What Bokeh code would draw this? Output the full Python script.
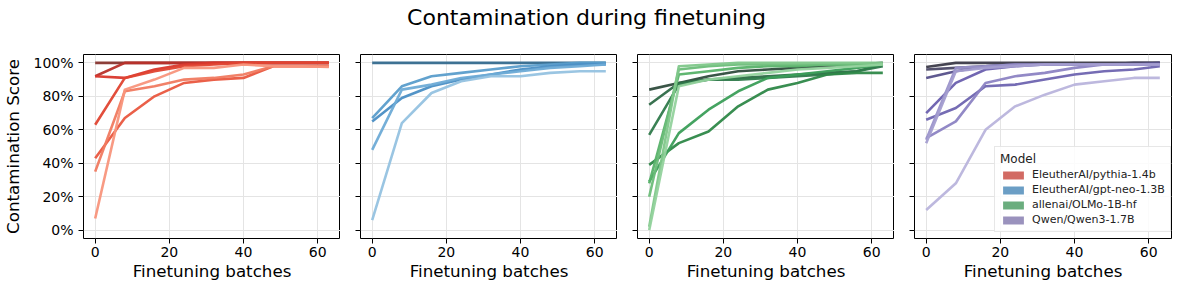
from bokeh.plotting import figure
from bokeh.layouts import column, row
from bokeh.models import Label, Legend, LegendItem, FixedTicker, PrintfTickFormatter, Range1d
from bokeh.embed import file_html
from bokeh.resources import INLINE

FONT = "DejaVu Sans"
NAN = float("nan")

# ---------------- data ----------------
batches = [0, 8, 16, 24, 32, 40, 48, 56, 63]

model_names = ["EleutherAI/pythia-1.4b", "EleutherAI/gpt-neo-1.3B",
               "allenai/OLMo-1B-hf", "Qwen/Qwen3-1.7B"]
legend_colors = ["#d26a63", "#6b9ec5", "#6aad7e", "#9a92bd"]

y_ticks = [0, 20, 40, 60, 80, 100]
x_ticks = [0, 20, 40, 60]

pythia_runs = [
    [100, 100, 100, 100, 100, 100, 100, 100, 100],
    [92, 100, 100, 100, 100, 100, 100, 100, 100],
    [92, 91, 96, 99, 100, 100, 100, 100, 100],
    [63, 91, 95, 98, 99, 100, 100, 100, 100],
    [43, 67, 80, 88, 90, 91, 98, 98, 98],
    [35, 83, 86, 90, 91, 93, 98, 98, 98],
    [7, 84, 90, 97, 97, 99, 98, 98, 97.5],
]
pythia_colors = ["#87352f", "#b8302a", "#d9372c", "#e04431", "#e9573f", "#f07a60", "#f8957c"]

gptneo_runs = [
    [100, 100, 100, 100, 100, 100, 100, 100, 100],
    [67, 86, 92, 94, 96, 98, 99, 100, 100],
    [65, 79, 86, 90, 93, 96, 98, 99, 99],
    [48, 84, 87, 91, 93, 95, 97, 98, 99],
    [6, 64, 82, 89, 92, 92, 94, 95, 95],
]
gptneo_colors = ["#346a8e", "#5a9dcb", "#4a8ec4", "#6eabd6", "#95c2e0"]

olmo_runs = [
    [84, 88, 92, 95, 96, 97, 98, 99, 100],
    [75, 88, 90, 91, 92, 93, 94, 95, 99],
    [57, 87, 90, 90, 91, 92, 93, 95, 98],
    [39, 52, 59, 74, 84, 88, 93, 94, 94],
    [29, 58, 72, 83, 91, 93, 95, 97, 99],
    [28, 93, 95, 97, 98, 98, 99, 99, 99],
    [20, 96, 98, 99, 99, 99, 99, 99, 99],
    [2, 98, 99, 100, 100, 100, 100, 100, 100],
    [0, 86, 90, 92, 94, 96, 97, 98, 99],
]
olmo_colors = ["#2f4c3d", "#2e6a47", "#2f7a4b", "#2e8848", "#3b9e58", "#57b269", "#6cbd79", "#7fc78a", "#94d29d"]

qwen_runs = [
    [97.5, 100, 100, 100, 100, 100, 100, 100, 100],
    [96, 97, 98, 99, 99, 99, 99, 100, 100],
    [91, 95, 98, 99, 99, 99, 99, 99, 100],
    [70, 88, 96, 98, 99, 99, 99, 99, 99],
    [66, 73, 86, 87, 90, 93, 95, 96, 98],
    [55, 65, 88, 92, 94, 97, 99, 99, 99],
    [54, 97, 98, 99, 99, 99, 99, 99, 99],
    [52, 95, 97, 98, 99, 99, 99, 99, 99],
    [12, 28, 60, 74, 81, 87, 89, 91, 91],
]
qwen_colors = ["#3b3a48", "#4b4866", "#56508a", "#6a5fae", "#6e64b0", "#8c83c3", "#9a92ca", "#a49ed0", "#b9b4dc"]

panel_data = [(pythia_runs, pythia_colors), (gptneo_runs, gptneo_colors),
              (olmo_runs, olmo_colors), (qwen_runs, qwen_colors)]

# ---------------- title ----------------
pt = figure(width=1172, height=44, x_range=(0, 1), y_range=(0, 1),
            output_backend="svg", toolbar_location=None,
            x_axis_location=None, y_axis_location=None, min_border=0)
pt.grid.visible = False
pt.outline_line_color = None
pt.add_layout(Label(x=0.5, y=1, y_offset=-17, text="Contamination during finetuning",
                    text_align="center", text_baseline="middle",
                    text_font=FONT, text_font_size="22px", text_color="black"))

# ---------------- panels ----------------
widths = [340, 277, 277, 278]
left_borders = [83, 20, 20, 20]
right_borders = [0, 0, 0, 1]

panels = []
for i, (runs, cols) in enumerate(panel_data):
    first, last = i == 0, i == 3
    p = figure(width=widths[i], height=239,
               x_range=Range1d(-3.15, 66.15), y_range=Range1d(-5, 105),
               output_backend="svg", toolbar_location=None,
               min_border_left=left_borders[i], min_border_right=right_borders[i],
               min_border_top=10, min_border_bottom=40)
    p.outline_line_color = "black"
    p.outline_line_width = 1
    p.grid.grid_line_color = "#e4e4e4"
    p.grid.grid_line_width = 1
    p.xaxis.ticker = FixedTicker(ticks=x_ticks)
    p.yaxis.ticker = FixedTicker(ticks=y_ticks)
    p.yaxis.formatter = PrintfTickFormatter(format="%d%%")
    for ax in (p.xaxis[0], p.yaxis[0]):
        ax.axis_line_color = None
        ax.major_tick_out = 5
        ax.major_tick_in = 0
        ax.minor_tick_out = 0
        ax.minor_tick_in = 0
        ax.major_tick_line_color = "black"
        ax.major_label_text_font = FONT
        ax.major_label_text_font_size = "14px"
        ax.major_label_text_color = "black"
        ax.axis_label_text_font = FONT
        ax.axis_label_text_font_size = "16.7px"
        ax.axis_label_text_font_style = "normal"
        ax.axis_label_text_color = "black"
    p.xaxis.major_label_standoff = 3
    p.xaxis.axis_label_standoff = 1
    p.yaxis.major_label_standoff = 5
    p.yaxis.axis_label_standoff = 7
    p.xaxis.axis_label = "Finetuning batches"
    if first:
        p.yaxis.axis_label = "Contamination Score"
    else:
        p.yaxis.major_label_overrides = {t: "" for t in y_ticks}
        p.yaxis.major_label_standoff = 0

    for ys, c in zip(runs, cols):
        p.line(batches, ys, line_color=c, line_width=2.6, line_alpha=0.95,
               line_join="round")

    if last:
        items = []
        for name, c in zip(model_names, legend_colors):
            r = p.quad(left=[NAN], right=[NAN], top=[NAN], bottom=[NAN],
                       fill_color=c, line_color=None)
            items.append(LegendItem(label=name, renderers=[r]))
        leg = Legend(items=items, location=(80, 6), title="Model",
                     title_text_font=FONT, title_text_font_size="12px",
                     title_text_font_style="normal", title_text_color="#222222",
                     title_standoff=2,
                     label_text_font=FONT, label_text_font_size="11px",
                     label_text_color="#222222",
                     glyph_width=26, glyph_height=10, label_height=13,
                     label_standoff=6, spacing=2, padding=5,
                     border_line_color="#d0d0d0", border_line_width=1,
                     background_fill_color="white", background_fill_alpha=0.85)
        p.add_layout(leg)
    panels.append(p)

layout = column(pt, row(*panels, spacing=0), spacing=0)
open("out.html", "w").write(file_html(layout, INLINE))
